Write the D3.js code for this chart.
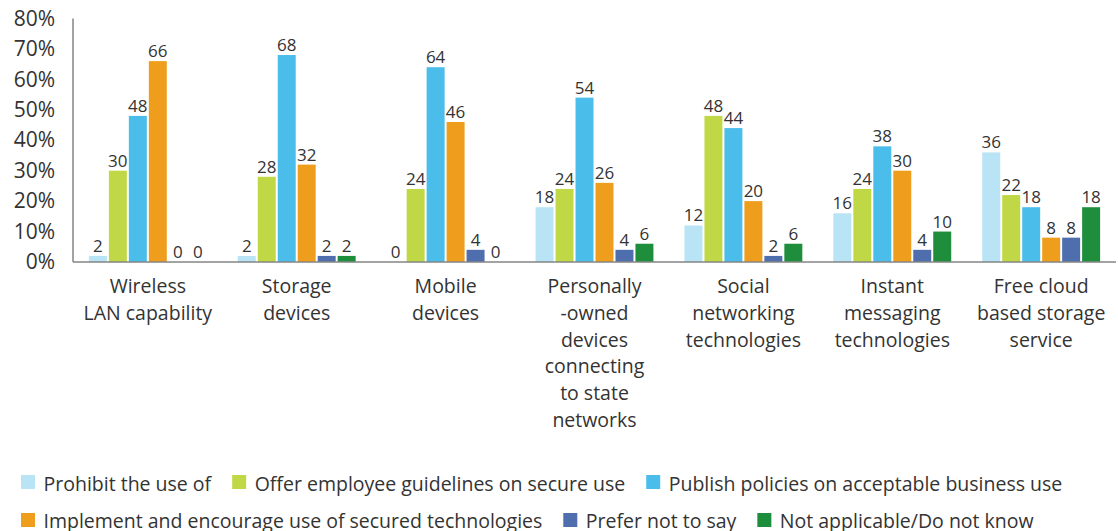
<!DOCTYPE html>
<html>
<head>
<meta charset="utf-8">
<script src="https://cdn.jsdelivr.net/npm/d3@7"></script>
<style>
  html, body { margin: 0; padding: 0; background: #fff; }
  svg { display: block; font-family: "Open Sans", "Noto Sans", sans-serif; }
</style>
</head>
<body>
<svg id="chart" width="1118" height="531"></svg>
<script>
// Technology policy categories (multi-line labels)
const categories = [
  ["Wireless", "LAN capability"],
  ["Storage", "devices"],
  ["Mobile", "devices"],
  ["Personally", "-owned", "devices", "connecting", "to state", "networks"],
  ["Social", "networking", "technologies"],
  ["Instant", "messaging", "technologies"],
  ["Free cloud", "based storage", "service"]
];

const seriesNames = [
  "Prohibit the use of",
  "Offer employee guidelines on secure use",
  "Publish policies on acceptable business use",
  "Implement and encourage use of secured technologies",
  "Prefer not to say",
  "Not applicable/Do not know"
];

const seriesColors = ["#b8e4f5", "#c1d846", "#4bbdeb", "#ee9e1c", "#4f6ead", "#1f8e3c"];

// Percent of respondents, one array per series, in category order
const prohibit   = [2, 2, 0, 18, 12, 16, 36];
const guidelines = [30, 28, 24, 24, 48, 24, 22];
const policies   = [48, 68, 64, 54, 44, 38, 18];
const implement  = [66, 32, 46, 26, 20, 30, 8];
const preferNot  = [0, 2, 4, 4, 2, 4, 8];
const notApplic  = [0, 2, 0, 6, 6, 10, 18];

const seriesValues = [prohibit, guidelines, policies, implement, preferNot, notApplic];
const yTicks = [0, 10, 20, 30, 40, 50, 60, 70, 80];

const svg = d3.select("#chart");
const textColor = "#333333";
const axisColor = "#858585";

const margin = { left: 73, right: 2, top: 18.5, bottom: 269 };
const width = 1118, height = 531;
const plotBottom = height - margin.bottom;

const x = d3.scaleBand()
  .domain(d3.range(categories.length))
  .range([margin.left, width - margin.right])
  .paddingInner(0.195)
  .paddingOuter(0.1);

const xInner = d3.scaleBand()
  .domain(d3.range(seriesNames.length))
  .range([0, x.bandwidth()])
  .paddingInner(0.1)
  .paddingOuter(0.05);

const y = d3.scaleLinear().domain([0, 80]).range([plotBottom, margin.top]);

// Y axis labels
const yAxis = d3.axisLeft(y).tickValues(yTicks).tickFormat(d => d + "%").tickSize(0).tickPadding(18);
const yg = svg.append("g").attr("transform", `translate(${margin.left},0)`).call(yAxis);
yg.select(".domain").remove();
yg.selectAll("text")
  .attr("fill", textColor)
  .style("font-size", "21px")
  .style("font-family", "\"Open Sans\", sans-serif");

// Bars
const groups = svg.append("g").selectAll("g")
  .data(categories.map((c, i) => i))
  .join("g")
  .attr("transform", i => `translate(${x(i)},0)`);

groups.selectAll("rect")
  .data(i => seriesValues.map((arr, s) => ({ s, v: arr[i] })))
  .join("rect")
  .attr("x", d => xInner(d.s))
  .attr("width", xInner.bandwidth())
  .attr("y", d => y(d.v))
  .attr("height", d => plotBottom - y(d.v))
  .attr("fill", d => seriesColors[d.s]);

// Value labels
groups.selectAll("text.val")
  .data(i => seriesValues.map((arr, s) => ({ s, v: arr[i] })))
  .join("text")
  .attr("class", "val")
  .attr("x", d => xInner(d.s) + xInner.bandwidth() / 2)
  .attr("y", d => y(d.v) - 4)
  .attr("text-anchor", "middle")
  .attr("fill", textColor)
  .style("font-size", "17px")
  .text(d => d.v);

// Axis lines
svg.append("line")
  .attr("x1", margin.left).attr("x2", margin.left)
  .attr("y1", y(80)).attr("y2", plotBottom)
  .attr("stroke", axisColor).attr("stroke-width", 1.5);
svg.append("line")
  .attr("x1", margin.left).attr("x2", width - margin.right)
  .attr("y1", plotBottom).attr("y2", plotBottom)
  .attr("stroke", axisColor).attr("stroke-width", 1.5);

// Category labels
const catG = svg.append("g");
categories.forEach((lines, i) => {
  const t = catG.append("text")
    .attr("text-anchor", "middle")
    .attr("fill", textColor)
    .style("font-size", "19.5px");
  lines.forEach((ln, k) => {
    t.append("tspan")
      .attr("x", x(i) + x.bandwidth() / 2)
      .attr("y", 293 + k * 26.8)
      .text(ln);
  });
});

// Legend, two rows laid out left to right
const legendRows = [[0, 1, 2], [3, 4, 5]];
const legendTop = [475, 513];
const legendBase = [491, 528];
const legend = svg.append("g");
legendRows.forEach((row, r) => {
  let cx = 21;
  row.forEach(s => {
    legend.append("rect")
      .attr("x", cx).attr("y", legendTop[r])
      .attr("width", 14).attr("height", 14)
      .attr("fill", seriesColors[s]);
    const t = legend.append("text")
      .attr("x", cx + 22.5)
      .attr("y", legendBase[r])
      .attr("fill", textColor)
      .style("font-size", "19.5px")
      .text(seriesNames[s]);
    cx = cx + 22.5 + t.node().getComputedTextLength() + 21;
  });
});
</script>
</body>
</html>
